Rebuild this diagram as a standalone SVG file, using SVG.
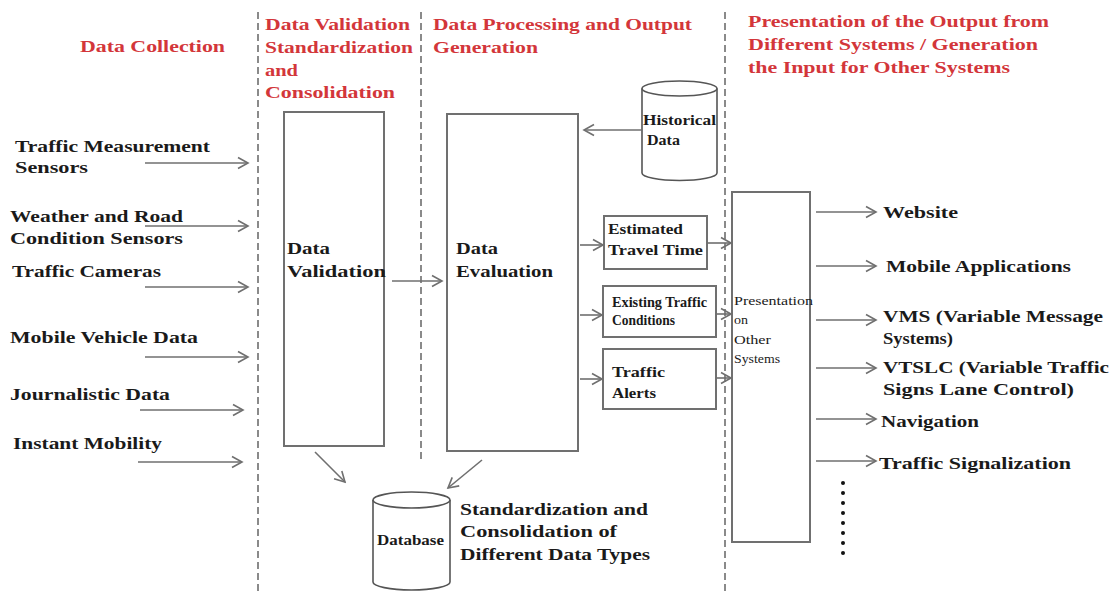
<svg xmlns="http://www.w3.org/2000/svg" width="1113" height="592" viewBox="0 0 1113 592">
<defs>
<marker id="ah" markerUnits="userSpaceOnUse" markerWidth="14" markerHeight="14" viewBox="0 0 14 14" refX="12" refY="7" orient="auto">
<path d="M2,1.5 L12,7 L2,12.5" fill="none" stroke="#6f6f6f" stroke-width="1.6"/>
</marker>
<style>
.hd{font-family:"Liberation Serif",serif;font-weight:bold;font-size:17px;fill:#d3363a}
.lb{font-family:"Liberation Serif",serif;font-weight:bold;font-size:17px;fill:#1a1a1a}
.sm{font-family:"Liberation Serif",serif;font-weight:bold;font-size:15px;fill:#1a1a1a}
.xs{font-family:"Liberation Serif",serif;font-size:13px;fill:#1a1a1a}
.box{fill:#fff;stroke:#707070;stroke-width:2}
.dash{stroke:#8a8a8a;stroke-width:2;stroke-dasharray:7,4;fill:none}
.ar{stroke:#6f6f6f;stroke-width:1.6;fill:none;marker-end:url(#ah)}
.cyl{fill:#fff;stroke:#555;stroke-width:1.6}
</style>
</defs>
<rect width="1113" height="592" fill="#fff"/>

<g id="dividers">
<line class="dash" x1="258" y1="12" x2="258" y2="592"/>
<line class="dash" x1="421" y1="12" x2="421" y2="462"/>
<line class="dash" x1="725" y1="12" x2="725" y2="592"/>
</g>

<g id="headers">
<text class="hd" x="80" y="52" textLength="145" lengthAdjust="spacingAndGlyphs">Data Collection</text>
<text class="hd" x="265" y="30" textLength="145" lengthAdjust="spacingAndGlyphs">Data Validation</text>
<text class="hd" x="265" y="53" textLength="148" lengthAdjust="spacingAndGlyphs">Standardization</text>
<text class="hd" x="265" y="76" textLength="33" lengthAdjust="spacingAndGlyphs">and</text>
<text class="hd" x="265" y="98" textLength="130" lengthAdjust="spacingAndGlyphs">Consolidation</text>
<text class="hd" x="433" y="30" textLength="259" lengthAdjust="spacingAndGlyphs">Data Processing and Output</text>
<text class="hd" x="433" y="53" textLength="105" lengthAdjust="spacingAndGlyphs">Generation</text>
<text class="hd" x="748" y="27" textLength="301" lengthAdjust="spacingAndGlyphs">Presentation of the Output from</text>
<text class="hd" x="748" y="50" textLength="290" lengthAdjust="spacingAndGlyphs">Different Systems / Generation</text>
<text class="hd" x="748" y="73" textLength="262" lengthAdjust="spacingAndGlyphs">the Input for Other Systems</text>
</g>

<g id="sources">
<text class="lb" x="15" y="152" textLength="195" lengthAdjust="spacingAndGlyphs">Traffic Measurement</text>
<text class="lb" x="15" y="173" textLength="73" lengthAdjust="spacingAndGlyphs">Sensors</text>
<text class="lb" x="10" y="222" textLength="173" lengthAdjust="spacingAndGlyphs">Weather and Road</text>
<text class="lb" x="10" y="244" textLength="173" lengthAdjust="spacingAndGlyphs">Condition Sensors</text>
<text class="lb" x="12" y="277" textLength="149" lengthAdjust="spacingAndGlyphs">Traffic Cameras</text>
<text class="lb" x="10" y="343" textLength="188" lengthAdjust="spacingAndGlyphs">Mobile Vehicle Data</text>
<text class="lb" x="10" y="400" textLength="160" lengthAdjust="spacingAndGlyphs">Journalistic Data</text>
<text class="lb" x="13" y="449" textLength="149" lengthAdjust="spacingAndGlyphs">Instant Mobility</text>
</g>

<g id="data-validation">
<rect class="box" x="284" y="112" width="100" height="334"/>
<text class="lb" x="287" y="254" textLength="43" lengthAdjust="spacingAndGlyphs">Data</text>
<text class="lb" x="287" y="277" textLength="99" lengthAdjust="spacingAndGlyphs">Validation</text>
</g>

<g id="data-evaluation">
<rect class="box" x="447" y="114" width="131" height="337"/>
<text class="lb" x="456" y="254" textLength="42" lengthAdjust="spacingAndGlyphs">Data</text>
<text class="lb" x="456" y="277" textLength="97" lengthAdjust="spacingAndGlyphs">Evaluation</text>
</g>

<g id="historical-data">
<path class="cyl" d="M642,88.5 L642,173 A37.5,7.5 0 0 0 717,173 L717,88.5"/>
<ellipse class="cyl" cx="679.5" cy="88.5" rx="37.5" ry="7.5"/>
<text class="sm" x="643" y="125" textLength="73" lengthAdjust="spacingAndGlyphs">Historical</text>
<text class="sm" x="647" y="145" textLength="33" lengthAdjust="spacingAndGlyphs">Data</text>
</g>

<g id="estimated-travel-time">
<rect class="box" x="604" y="216" width="103" height="53"/>
<text class="sm" x="608" y="234" textLength="75" lengthAdjust="spacingAndGlyphs">Estimated</text>
<text class="sm" x="608" y="255" textLength="95" lengthAdjust="spacingAndGlyphs">Travel Time</text>
</g>

<g id="existing-traffic-conditions">
<rect class="box" x="603" y="286" width="113" height="51"/>
<text class="sm" x="612" y="307" font-size="12" textLength="95" lengthAdjust="spacingAndGlyphs">Existing Traffic</text>
<text class="sm" x="612" y="325" font-size="12" textLength="63" lengthAdjust="spacingAndGlyphs">Conditions</text>
</g>

<g id="traffic-alerts">
<rect class="box" x="603" y="349" width="113" height="60"/>
<text class="sm" x="612" y="377" textLength="53" lengthAdjust="spacingAndGlyphs">Traffic</text>
<text class="sm" x="612" y="398" textLength="44" lengthAdjust="spacingAndGlyphs">Alerts</text>
</g>

<g id="presentation">
<rect class="box" x="732" y="192" width="78" height="350"/>
<text class="xs" x="734" y="305" textLength="79" lengthAdjust="spacingAndGlyphs">Presentation</text>
<text class="xs" x="734" y="324" textLength="14" lengthAdjust="spacingAndGlyphs">on</text>
<text class="xs" x="734" y="344" textLength="37" lengthAdjust="spacingAndGlyphs">Other</text>
<text class="xs" x="734" y="363" textLength="46" lengthAdjust="spacingAndGlyphs">Systems</text>
</g>

<g id="outputs">
<text class="lb" x="883" y="218" textLength="75" lengthAdjust="spacingAndGlyphs">Website</text>
<text class="lb" x="886" y="272" textLength="185" lengthAdjust="spacingAndGlyphs">Mobile Applications</text>
<text class="lb" x="883" y="322" textLength="220" lengthAdjust="spacingAndGlyphs">VMS (Variable Message</text>
<text class="lb" x="883" y="344" textLength="70" lengthAdjust="spacingAndGlyphs">Systems)</text>
<text class="lb" x="883" y="373" textLength="226" lengthAdjust="spacingAndGlyphs">VTSLC (Variable Traffic</text>
<text class="lb" x="883" y="395" textLength="191" lengthAdjust="spacingAndGlyphs">Signs Lane Control)</text>
<text class="lb" x="881" y="427" textLength="98" lengthAdjust="spacingAndGlyphs">Navigation</text>
<text class="lb" x="879" y="469" textLength="192" lengthAdjust="spacingAndGlyphs">Traffic Signalization</text>
<g fill="#111">
<circle cx="843" cy="483" r="2"/><circle cx="843" cy="493" r="2"/><circle cx="843" cy="503" r="2"/><circle cx="843" cy="513" r="2"/>
<circle cx="843" cy="523" r="2"/><circle cx="843" cy="533" r="2"/><circle cx="843" cy="543" r="2"/><circle cx="843" cy="553" r="2"/>
</g>
</g>

<g id="database">
<path class="cyl" d="M373,500 L373,582 A38.5,8 0 0 0 450,582 L450,500"/>
<ellipse class="cyl" cx="411.5" cy="500" rx="38.5" ry="8"/>
<text class="sm" x="377" y="545" font-size="14" textLength="67" lengthAdjust="spacingAndGlyphs">Database</text>
<text class="lb" x="460" y="515" textLength="188" lengthAdjust="spacingAndGlyphs">Standardization and</text>
<text class="lb" x="460" y="537" textLength="157" lengthAdjust="spacingAndGlyphs">Consolidation of</text>
<text class="lb" x="460" y="560" textLength="190" lengthAdjust="spacingAndGlyphs">Different Data Types</text>
</g>

<g id="connectors">
<line class="ar" x1="145" y1="163" x2="248" y2="163"/>
<line class="ar" x1="145" y1="226" x2="248" y2="226"/>
<line class="ar" x1="145" y1="287" x2="248" y2="287"/>
<line class="ar" x1="145" y1="357" x2="248" y2="357"/>
<line class="ar" x1="140" y1="410" x2="243" y2="410"/>
<line class="ar" x1="138" y1="462" x2="242" y2="462"/>
<line class="ar" x1="392" y1="281" x2="442" y2="281"/>
<line class="ar" x1="642" y1="130" x2="584" y2="130"/>
<line class="ar" x1="580" y1="245" x2="603" y2="245"/>
<line class="ar" x1="580" y1="315" x2="602" y2="315"/>
<line class="ar" x1="580" y1="379" x2="602" y2="379"/>
<line class="ar" x1="707" y1="243" x2="731" y2="243"/>
<line class="ar" x1="716" y1="314" x2="731" y2="314"/>
<line class="ar" x1="716" y1="378" x2="731" y2="378"/>
<line class="ar" x1="315" y1="452" x2="345" y2="482"/>
<line class="ar" x1="482" y1="460" x2="448" y2="488"/>
<line class="ar" x1="816" y1="212" x2="876" y2="212"/>
<line class="ar" x1="816" y1="266" x2="876" y2="266"/>
<line class="ar" x1="816" y1="320" x2="876" y2="320"/>
<line class="ar" x1="816" y1="368" x2="876" y2="368"/>
<line class="ar" x1="816" y1="419" x2="876" y2="419"/>
<line class="ar" x1="816" y1="461" x2="876" y2="461"/>
</g>
</svg>
